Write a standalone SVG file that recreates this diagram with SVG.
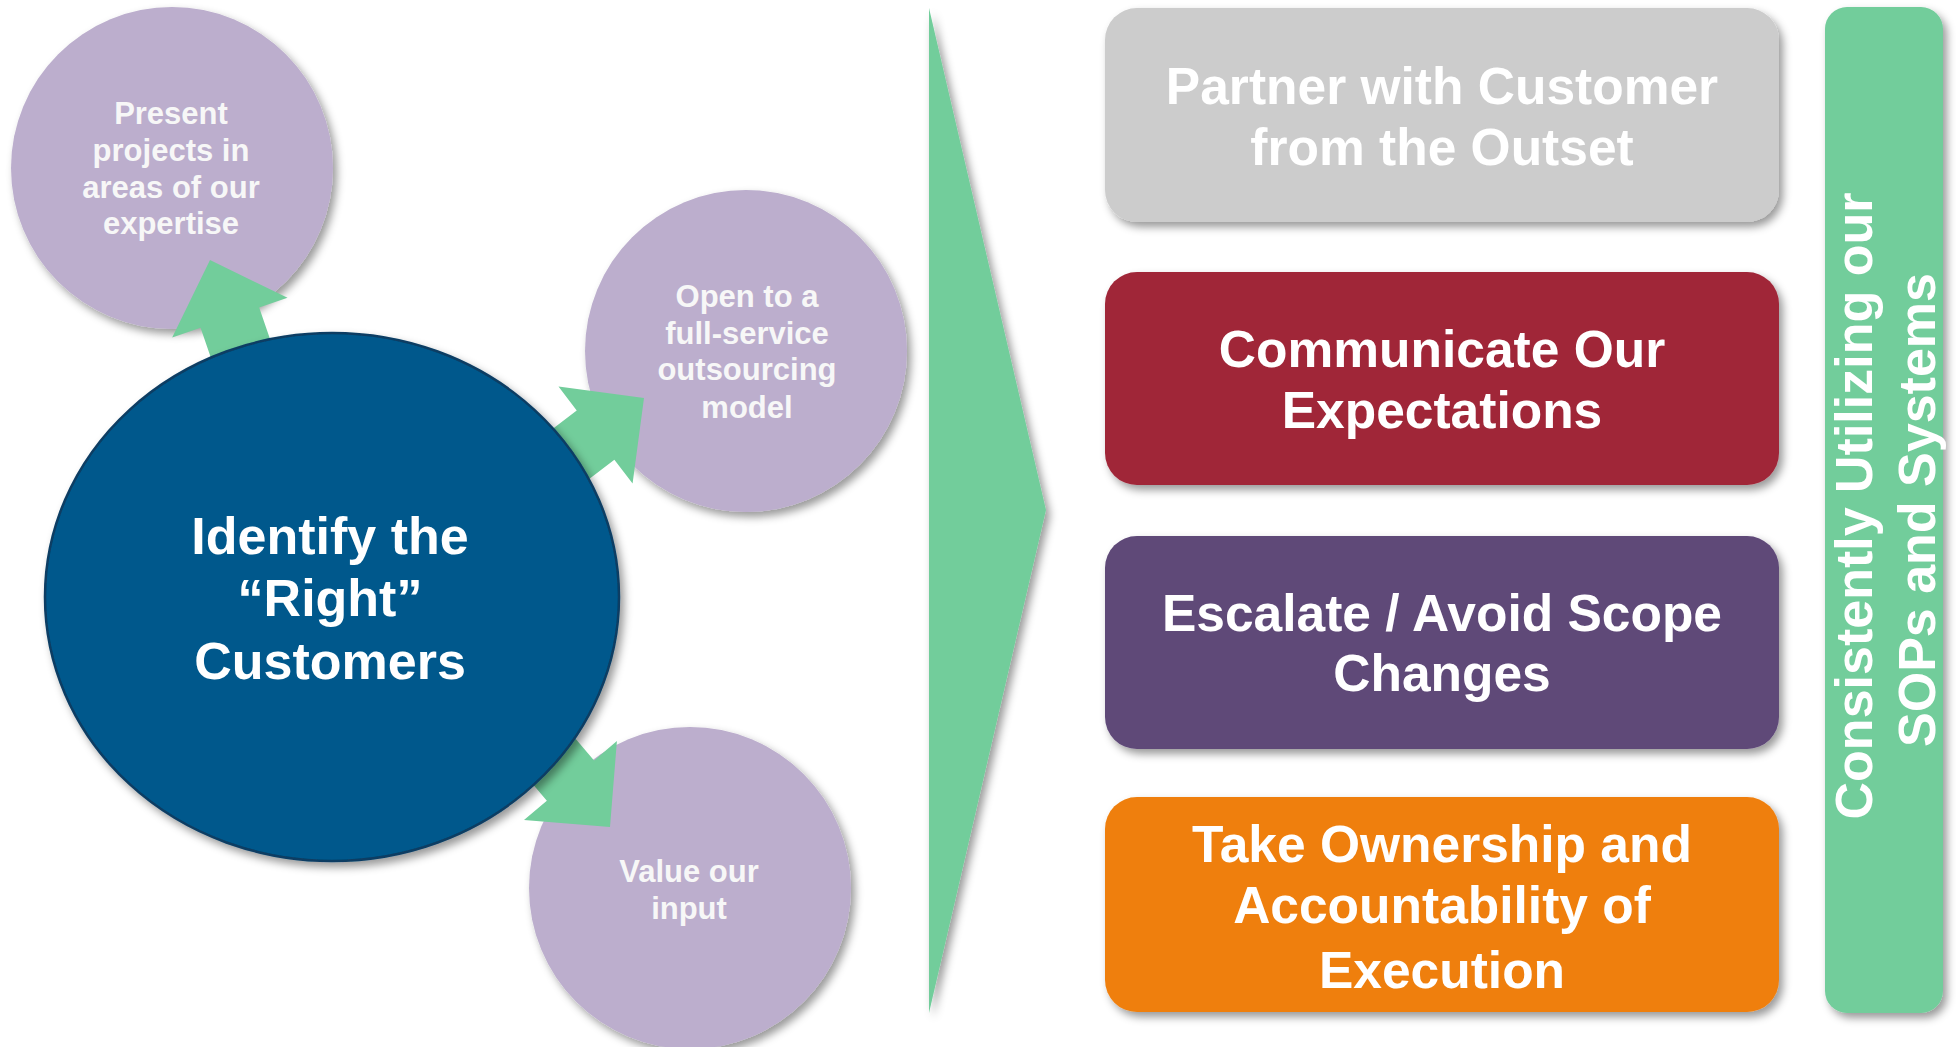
<svg xmlns="http://www.w3.org/2000/svg" width="1956" height="1047" viewBox="0 0 1956 1047">
  <defs>
    <filter id="shadow" x="-20%" y="-20%" width="140%" height="140%">
      <feDropShadow dx="4" dy="5" stdDeviation="4" flood-color="#000000" flood-opacity="0.4"/>
    </filter>
    <!-- block arrow pointing up, tip at the origin -->
    <polygon id="arrow" points="0,0 61,61 31,61 31,220 -31,220 -31,61 -61,61"/>
    <style>
      text { font-family: "Liberation Sans", Arial, sans-serif; font-weight: bold; text-anchor: middle; }
      .small { font-size: 31px; fill: #F7F7F7; }
      .big { font-size: 52px; fill: #FFFFFF; }
      .box { font-size: 51.5px; fill: #FFFFFF; }
      .side { font-size: 52px; fill: #FFFFFF; }
      .bubble { fill: #BCAECD; filter: url(#shadow); }
      .arrow { fill: #72CD9B; }
      .card { filter: url(#shadow); }
    </style>
  </defs>

  <rect width="1956" height="1047" fill="#FFFFFF"/>

  <!-- outer bubbles -->
  <g id="node-expertise">
    <circle class="bubble" cx="172" cy="168" r="161"/>
    <text class="small" x="171" y="124">Present</text>
    <text class="small" x="171" y="161">projects in</text>
    <text class="small" x="171" y="198">areas of our</text>
    <text class="small" x="171" y="234">expertise</text>
  </g>
  <g id="node-outsourcing">
    <circle class="bubble" cx="746" cy="351" r="161"/>
    <text class="small" x="747" y="307">Open to a</text>
    <text class="small" x="747" y="344">full-service</text>
    <text class="small" x="747" y="380">outsourcing</text>
    <text class="small" x="747" y="418">model</text>
  </g>
  <g id="node-input">
    <circle class="bubble" cx="690" cy="888" r="161"/>
    <text class="small" x="689" y="882">Value our</text>
    <text class="small" x="689" y="919">input</text>
  </g>

  <!-- connectors from the centre circle -->
  <g id="connectors" class="arrow">
    <use href="#arrow" transform="translate(210,260) rotate(-19)"/>
    <use href="#arrow" transform="translate(644,398) rotate(52.6)"/>
    <use href="#arrow" transform="translate(610,827) rotate(139.6)"/>
  </g>

  <g id="node-identify">
    <ellipse cx="332" cy="597" rx="287" ry="264" fill="#01598C" stroke="#0A3D63" stroke-width="2.5" filter="url(#shadow)"/>
    <text class="big" x="330" y="554">Identify the</text>
    <text class="big" x="330" y="616">“Right”</text>
    <text class="big" x="330" y="679">Customers</text>
  </g>

  <!-- chevron -->
  <g id="node-chevron">
    <polygon points="929,8 1046,510 929,1013" fill="#72CD9B" filter="url(#shadow)"/>
  </g>

  <!-- steps -->
  <g id="node-partner">
    <rect class="card" x="1105" y="8" width="674" height="214" rx="32" fill="#CCCCCC"/>
    <text class="box" x="1442" y="104" fill="#F4F4F4">Partner with Customer</text>
    <text class="box" x="1442" y="165" fill="#F4F4F4">from the Outset</text>
  </g>
  <g id="node-communicate">
    <rect class="card" x="1105" y="272" width="674" height="213" rx="32" fill="#A02638"/>
    <text class="box" x="1442" y="367">Communicate Our</text>
    <text class="box" x="1442" y="428">Expectations</text>
  </g>
  <g id="node-escalate">
    <rect class="card" x="1105" y="536" width="674" height="213" rx="32" fill="#5E4878"/>
    <text class="box" x="1442" y="631">Escalate / Avoid Scope</text>
    <text class="box" x="1442" y="691">Changes</text>
  </g>
  <g id="node-ownership">
    <rect class="card" x="1105" y="797" width="674" height="215" rx="32" fill="#EF7F0C"/>
    <text class="box" x="1442" y="862">Take Ownership and</text>
    <text class="box" x="1442" y="923">Accountability of</text>
    <text class="box" x="1442" y="988">Execution</text>
  </g>

  <!-- side bar -->
  <g id="node-sops">
    <rect class="card" x="1825" y="7" width="118" height="1006" rx="22" fill="#72CD9B"/>
    <text class="side" transform="translate(1872,506) rotate(-90)" x="0" y="0">Consistently Utilizing our</text>
    <text class="side" transform="translate(1935,510) rotate(-90)" x="0" y="0">SOPs and Systems</text>
  </g>
</svg>
